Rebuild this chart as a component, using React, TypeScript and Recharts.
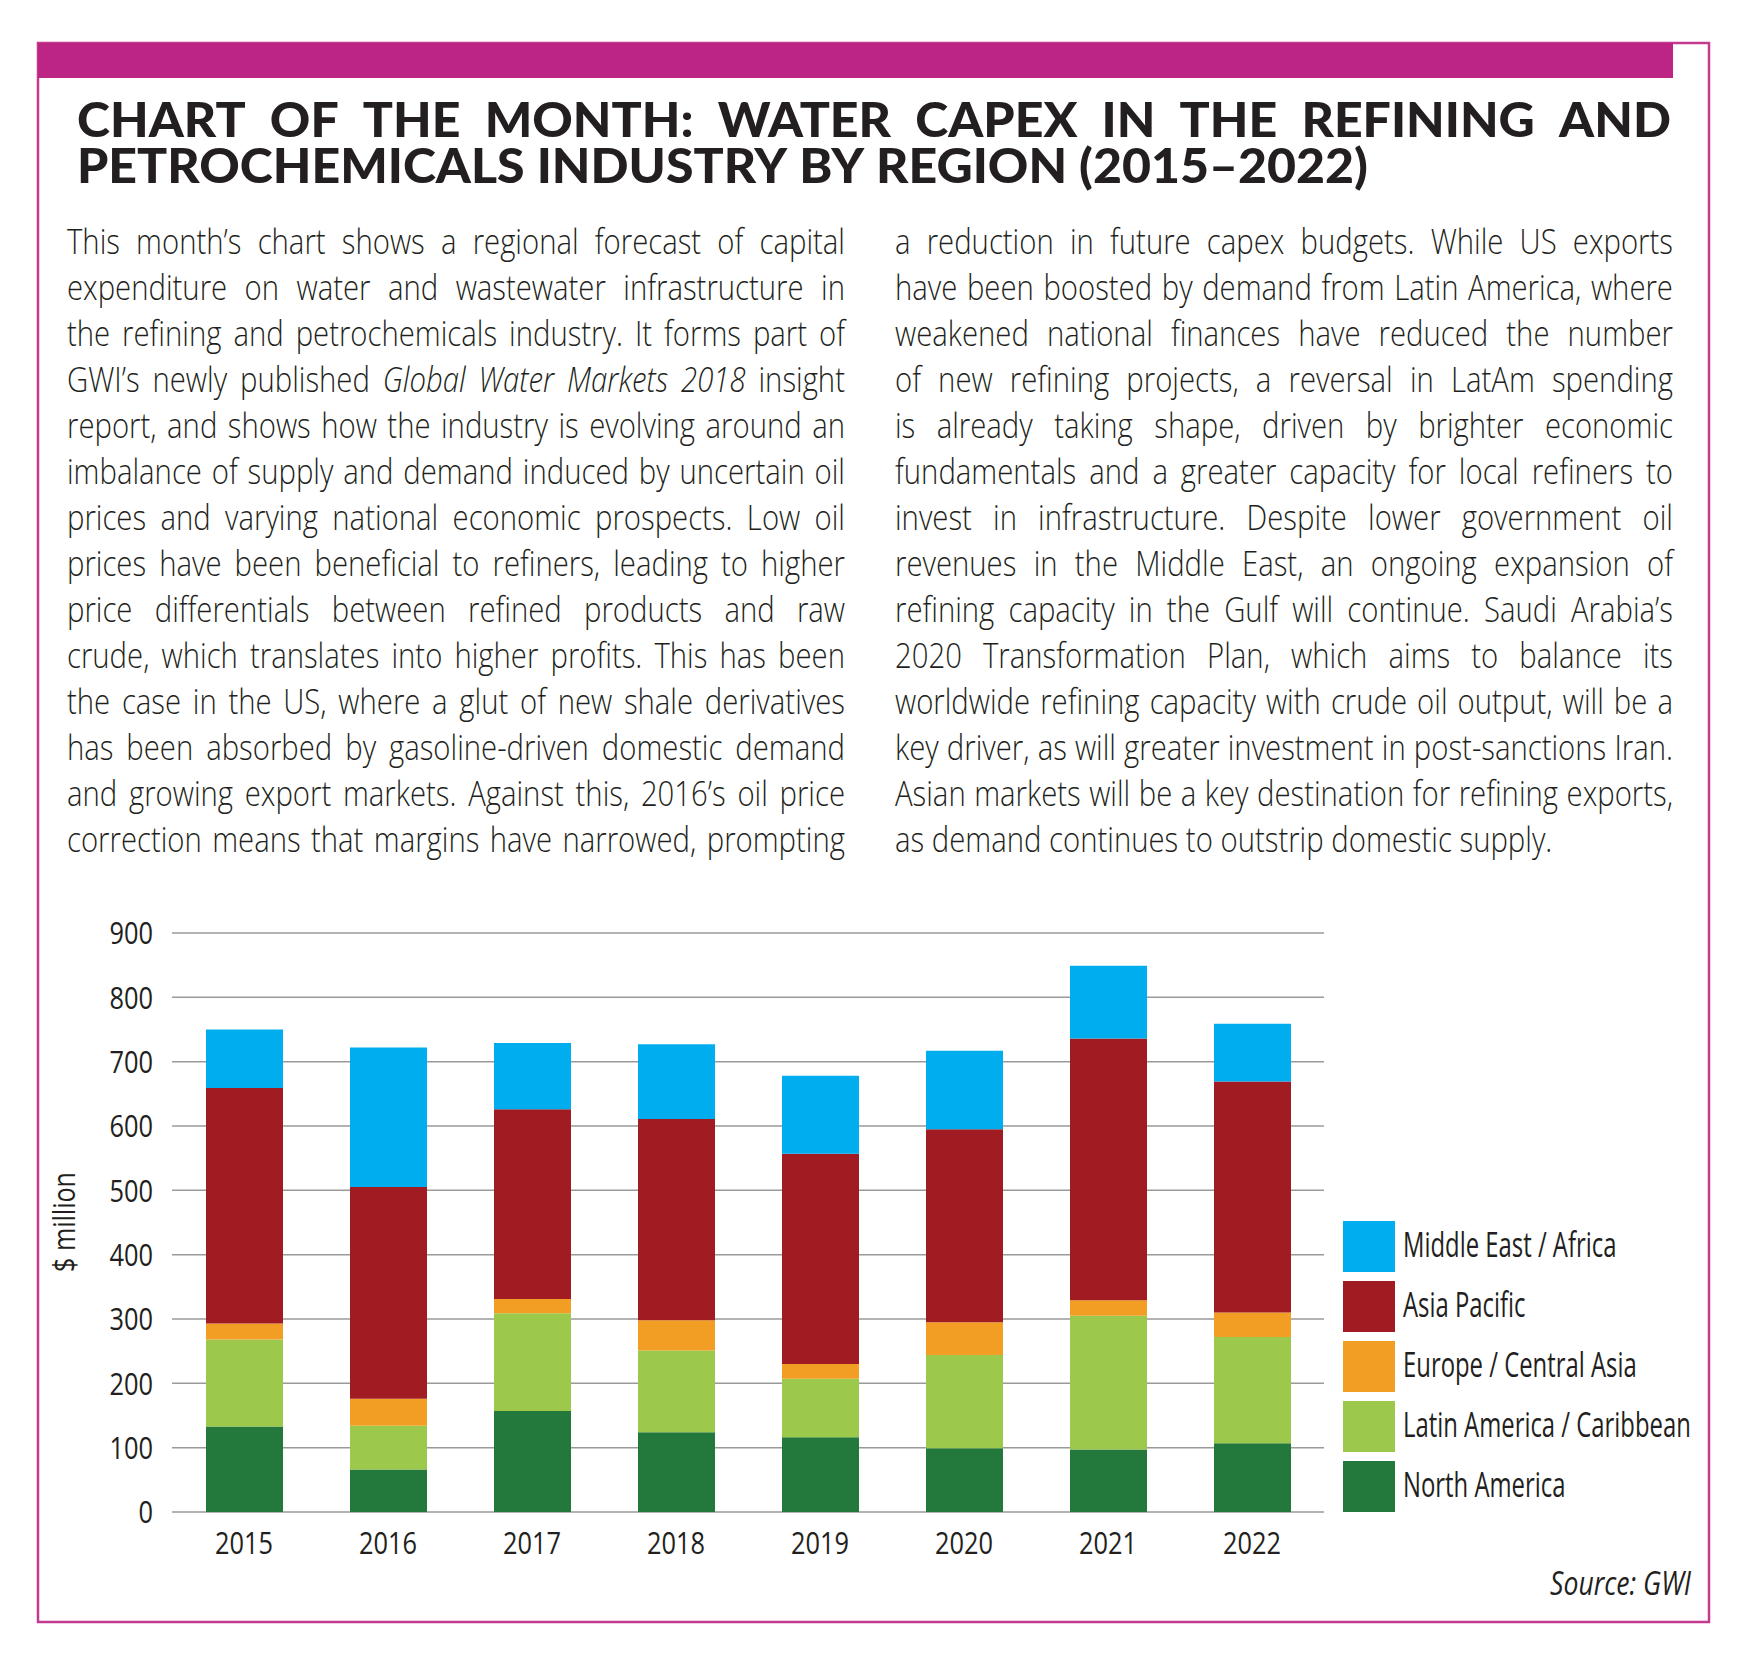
import React from 'react';
import { BarChart, Bar, XAxis, YAxis, CartesianGrid, Legend } from 'recharts';

// ---------- DATA ----------
const years = ['2015', '2016', '2017', '2018', '2019', '2020', '2021', '2022'];
const northAmerica = [133, 66, 157, 124, 116, 99, 97, 107];
const latinAmerica = [135, 68, 152, 127, 91, 145, 208, 165];
const europeCentralAsia = [25, 42, 22, 47, 23, 51, 24, 38];
const asiaPacific = [366, 329, 295, 313, 327, 300, 407, 359];
const middleEastAfrica = [91, 217, 103, 116, 121, 122, 113, 90];
const yTicks = [0, 100, 200, 300, 400, 500, 600, 700, 800, 900];

const seriesDefs = [
  { key: 'northAmerica', name: 'North America', color: '#23793C', values: northAmerica },
  { key: 'latinAmerica', name: 'Latin America / Caribbean', color: '#9CC84B', values: latinAmerica },
  { key: 'europeCentralAsia', name: 'Europe / Central Asia', color: '#F29E25', values: europeCentralAsia },
  { key: 'asiaPacific', name: 'Asia Pacific', color: '#A01C22', values: asiaPacific },
  { key: 'middleEastAfrica', name: 'Middle East / Africa', color: '#00AEEF', values: middleEastAfrica },
];
const legendOrder = [...seriesDefs].reverse();

const data = years.map((year, i) => {
  const row: any = { year };
  seriesDefs.forEach((s) => (row[s.key] = s.values[i]));
  return row;
});

const titleLine1 = 'CHART OF THE MONTH: WATER CAPEX IN THE REFINING AND';
const titleLine2 = 'PETROCHEMICALS INDUSTRY BY REGION (2015–2022)';

const leftColumn = [
  'This month’s chart shows a regional forecast of capital',
  'expenditure on water and wastewater infrastructure in',
  'the refining and petrochemicals industry. It forms part of',
  'GWI’s newly published _Global Water Markets 2018_ insight',
  'report, and shows how the industry is evolving around an',
  'imbalance of supply and demand induced by uncertain oil',
  'prices and varying national economic prospects. Low oil',
  'prices have been beneficial to refiners, leading to higher',
  'price differentials between refined products and raw',
  'crude, which translates into higher profits. This has been',
  'the case in the US, where a glut of new shale derivatives',
  'has been absorbed by gasoline-driven domestic demand',
  'and growing export markets. Against this, 2016’s oil price',
  'correction means that margins have narrowed, prompting',
];
const rightColumn = [
  'a reduction in future capex budgets. While US exports',
  'have been boosted by demand from Latin America, where',
  'weakened national finances have reduced the number',
  'of new refining projects, a reversal in LatAm spending',
  'is already taking shape, driven by brighter economic',
  'fundamentals and a greater capacity for local refiners to',
  'invest in infrastructure. Despite lower government oil',
  'revenues in the Middle East, an ongoing expansion of',
  'refining capacity in the Gulf will continue. Saudi Arabia’s',
  '2020 Transformation Plan, which aims to balance its',
  'worldwide refining capacity with crude oil output, will be a',
  'key driver, as will greater investment in post-sanctions Iran.',
  'Asian markets will be a key destination for refining exports,',
  'as demand continues to outstrip domestic supply.',
];

// ---------- TEXT MEASURE ----------
const INK = '#231F20';
const SANS = '"Open Sans"';
const BODY_WEIGHT = 300;
let _ctx: any = null;
function tw(text: string, font: string): number {
  if (!_ctx) _ctx = document.createElement('canvas').getContext('2d');
  _ctx.font = font;
  return _ctx.measureText(text).width;
}
const bodyFont = (it: boolean) => `${it ? 'italic ' : ''}${BODY_WEIGHT} 35px ${SANS}`;
const titleFont = `900 48px Lato`;

type Word = { t: string; it: boolean };
function parseWords(line: string): Word[] {
  let ital = false;
  return line.split(' ').map((w) => {
    let t = w;
    let it = ital;
    if (t.startsWith('_')) {
      t = t.slice(1);
      it = true;
      ital = true;
    }
    if (t.endsWith('_')) {
      t = t.slice(0, -1);
      ital = false;
    }
    return { t, it };
  });
}

function lineLayout(line: string, fontFn: (it: boolean) => string) {
  const words = parseWords(line);
  const widths = words.map((w) => tw(w.t, fontFn(w.it)));
  const space = tw(' ', fontFn(false));
  const sum = widths.reduce((a, b) => a + b, 0);
  return { words, widths, space, sum, natural: sum + space * (words.length - 1) };
}

function wordPositions(line: string, fontFn: (it: boolean) => string, width: number, sx: number, justify: boolean) {
  const L = lineLayout(line, fontFn);
  const n = L.words.length;
  const gap = justify && n > 1 ? (width / sx - L.sum) / (n - 1) : L.space;
  let pos = 0;
  const xs = L.widths.map((w) => {
    const p = pos;
    pos += w + gap;
    return p;
  });
  return { words: L.words, xs };
}

function TextLine({ line, fontFn, x, y, width, sx, justify, family, weight, size }: any) {
  const { words, xs } = wordPositions(line, fontFn, width, sx, justify);
  return (
    <g transform={`translate(${x},${y}) scale(${sx},1)`}>
      {words.map((w, j) => (
        <text
          key={j}
          x={xs[j]}
          y={0}
          fontFamily={family}
          fontWeight={weight}
          fontSize={size}
          fontStyle={w.it ? 'italic' : 'normal'}
          fill={INK}
        >
          {w.t}
        </text>
      ))}
    </g>
  );
}

function TitleBlock({ sx }: any) {
  const tFont = () => titleFont;
  const l1 = wordPositions(titleLine1, tFont, 1594, sx, true);
  const l2 = wordPositions(titleLine2, tFont, 1291, sx, false);
  return (
    <g transform={`translate(77,0) scale(${sx},1)`}>
      <text fontFamily="Lato" fontWeight={900} fontSize={48} fill={INK}>
        {l1.words.map((w, j) => (
          <tspan key={'a' + j} x={l1.xs[j]} y={137}>
            {w.t}
          </tspan>
        ))}
        {l2.words.map((w, j) => (
          <tspan key={'b' + j} x={l2.xs[j]} y={183}>
            {w.t}
          </tspan>
        ))}
      </text>
    </g>
  );
}

// ---------- CHART PIECES ----------
let tickSx = 0.8;
let legendSx = 0.72;

const YTick = (props: any) => {
  const { x, y, payload } = props;
  return (
    <g transform={`translate(${x},${y}) scale(${tickSx},1)`}>
      <text textAnchor="end" dy="0.36em" fontFamily={SANS} fontSize={31} fill={INK}>
        {payload.value}
      </text>
    </g>
  );
};

const XTick = (props: any) => {
  const { x, y, payload } = props;
  return (
    <g transform={`translate(${x},${y + 42}) scale(${tickSx},1)`}>
      <text textAnchor="middle" fontFamily={SANS} fontSize={31} fill={INK}>
        {payload.value}
      </text>
    </g>
  );
};

const renderLegend = () => (
  <svg width={400} height={300}>
    {legendOrder.map((s, i) => (
      <g key={s.key}>
        <rect x={0} y={i * 60} width={52} height={51} fill={s.color} />
        <g transform={`translate(60,${i * 60 + 36}) scale(${legendSx},1)`}>
          <text fontFamily={SANS} fontSize={34} fill={INK}>
            {s.name}
          </text>
        </g>
      </g>
    ))}
  </svg>
);

export default function App() {
  const COL_W = 778;
  const justifiedLines = [...leftColumn, ...rightColumn.slice(0, rightColumn.length - 1)];
  let bodySx = 1;
  justifiedLines.forEach((l) => {
    const nat = lineLayout(l, bodyFont).natural;
    bodySx = Math.min(bodySx, COL_W / nat);
  });
  bodySx *= 0.995;

  const titleSx = 1291 / lineLayout(titleLine2, () => titleFont).natural;

  tickSx = 58 / tw('2015', `400 31px ${SANS}`);
  legendSx = 288 / tw('Latin America / Caribbean', `400 34px ${SANS}`);
  const sourceSx = 141 / tw('Source: GWI', `italic 400 33px ${SANS}`);
  const ylabSx = 100 / tw('$ million', `400 31px ${SANS}`);

  return (
    <div
      style={{
        position: 'absolute',
        left: 0,
        top: 0,
        width: 1755,
        height: 1670,
        background: '#ffffff',
        overflow: 'hidden',
      }}
    >
      <svg width={1755} height={1670} style={{ position: 'absolute', left: 0, top: 0 }}>
        <rect x={38} y={43} width={1671} height={1579} fill="none" stroke="#C43A91" strokeWidth={2.5} />
        <rect x={38} y={43} width={1635} height={35} fill="#BD2585" />

        <TitleBlock sx={titleSx} />

        {leftColumn.map((l, i) => (
          <TextLine key={'l' + i} line={l} fontFn={bodyFont} x={67} y={254 + i * 46} width={COL_W} sx={bodySx} justify family={SANS} weight={BODY_WEIGHT} size={35} />
        ))}
        {rightColumn.map((l, i) => (
          <TextLine
            key={'r' + i}
            line={l}
            fontFn={bodyFont}
            x={895}
            y={254 + i * 46}
            width={COL_W}
            sx={bodySx}
            justify={i < rightColumn.length - 1}
            family={SANS}
            weight={BODY_WEIGHT}
            size={35}
          />
        ))}

        <g transform={`translate(66,1222) rotate(-90) scale(${ylabSx},1)`}>
          <text textAnchor="middle" dy="0.3em" fontFamily={SANS} fontSize={31} fill={INK}>
            $ million
          </text>
        </g>

        <g transform={`translate(1691,1595) scale(${sourceSx},1)`}>
          <text textAnchor="end" fontFamily={SANS} fontStyle="italic" fontSize={33} fill={INK}>
            Source: GWI
          </text>
        </g>
      </svg>

      <div style={{ position: 'absolute', left: 0, top: 0 }}>
        <BarChart width={1755} height={1670} data={data} margin={{ top: 933, right: 431, bottom: 108, left: 112 }}>
          <CartesianGrid vertical={false} stroke="#9a9a9a" strokeWidth={1.5} />
          <XAxis
            dataKey="year"
            axisLine={false}
            tickLine={false}
            tickSize={0}
            tickMargin={0}
            height={50}
            interval={0}
            tick={(p: any) => <XTick {...p} />}
          />
          <YAxis
            domain={[0, 900]}
            ticks={yTicks}
            interval={0}
            axisLine={false}
            tickLine={false}
            tickSize={0}
            tickMargin={19}
            width={60}
            tick={(p: any) => <YTick {...p} />}
          />
          {seriesDefs.map((s) => (
            <Bar
              key={s.key}
              dataKey={s.key}
              name={s.name}
              stackId="capex"
              fill={s.color}
              barSize={77}
              isAnimationActive={false}
            />
          ))}
          <Legend
            layout="horizontal"
            verticalAlign="middle"
            align="center"
            wrapperStyle={{ position: 'absolute', left: 1343, top: 1221, width: 400, height: 300 }}
            content={renderLegend}
          />
        </BarChart>
      </div>
    </div>
  );
}
